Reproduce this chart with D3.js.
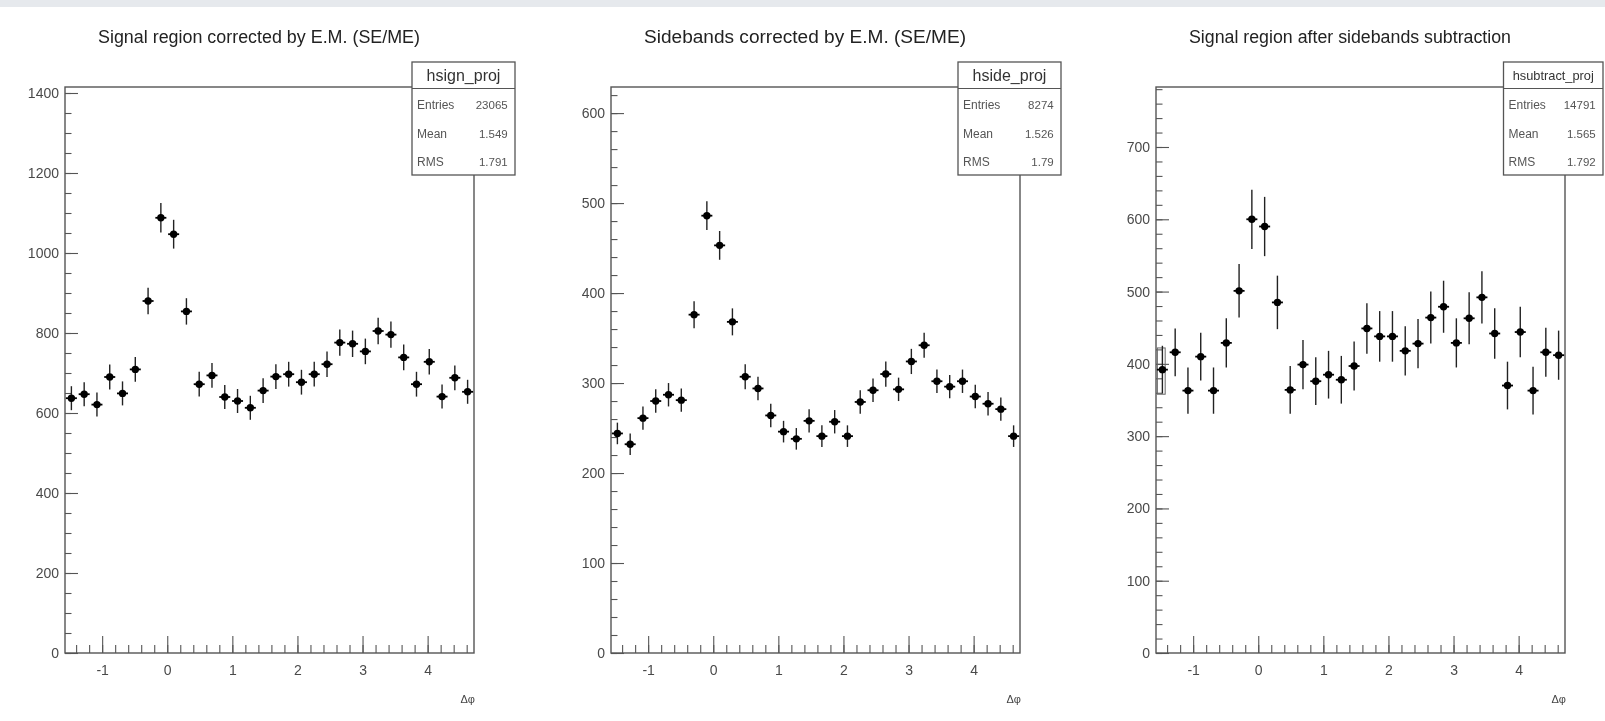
<!DOCTYPE html>
<html>
<head>
<meta charset="utf-8">
<script src="https://cdn.jsdelivr.net/npm/d3@7"></script>
<style>
  html, body { margin: 0; padding: 0; background: #fff; }
  svg { display: block; font-family: "Liberation Sans", Arial, Helvetica, sans-serif; }
</style>
</head>
<body>
<div id="chart"></div>
<script>
// histogram binning in delta phi
const phiMin = -Math.PI / 2
const phiMax = 3 * Math.PI / 2
const nBins = 32

// signal region corrected by E.M.
const signalCounts = [637, 647, 621, 690, 649, 709, 880, 1088, 1047, 854, 672, 694, 640, 630, 613, 656,
                      691, 697, 677, 697, 722, 776, 773, 754, 805, 796, 739, 672, 728, 641, 688, 653]
const signalErrors = [30, 30, 30, 31, 30, 31, 33, 37, 36, 33, 31, 31, 30, 30, 30, 31,
                      31, 31, 31, 31, 32, 33, 33, 32, 33, 33, 32, 31, 32, 30, 31, 30]

// sidebands corrected by E.M.
const sideCounts = [244, 232, 261, 280, 287, 281, 376, 486, 453, 368, 307, 294, 264, 246, 238, 258,
                    241, 257, 241, 279, 292, 310, 293, 324, 342, 302, 296, 302, 285, 277, 271, 241]
const sideErrors = [12, 12, 13, 13, 13, 13, 15, 16, 16, 15, 14, 13, 13, 12, 12, 13,
                    12, 13, 12, 13, 13, 14, 13, 14, 14, 13, 13, 13, 13, 13, 13, 12]

// signal after sideband subtraction
const subCounts = [392, 416, 363, 410, 363, 429, 501, 600, 590, 485, 364, 399, 376, 385, 378, 397,
                   449, 438, 438, 418, 428, 464, 479, 429, 463, 492, 442, 370, 444, 363, 416, 412]
const subErrors = [33, 33, 32, 33, 32, 34, 37, 41, 41, 37, 33, 34, 33, 33, 33, 34,
                   35, 35, 35, 34, 34, 36, 36, 34, 36, 36, 35, 33, 35, 33, 34, 34]

const titles = ["Signal region corrected by E.M. (SE/ME)", "Sidebands corrected by E.M. (SE/ME)",
                "Signal region after sidebands subtraction"]
const histNames = ["hsign_proj", "hside_proj", "hsubtract_proj"]
const statEntries = ["23065", "8274", "14791"]
const statMeans = ["1.549", "1.526", "1.565"]
const statRms = ["1.791", "1.79", "1.792"]

const yMax = [1415, 629, 783]
const yMajor = [[0, 200, 400, 600, 800, 1000, 1200, 1400], [0, 100, 200, 300, 400, 500, 600],
                [0, 100, 200, 300, 400, 500, 600, 700]]
const yMinorStep = [50, 20, 20]
const xMajor = [-1, 0, 1, 2, 3, 4]

const W = 1605, H = 721
const svg = d3.select("#chart").append("svg").attr("width", W).attr("height", H)

svg.append("defs").append("filter").attr("id", "soft")
    .append("feGaussianBlur").attr("stdDeviation", 0.5)

const root = svg.append("g").attr("filter", "url(#soft)")
root.append("rect").attr("width", W).attr("height", H).attr("fill", "#fff")
root.append("rect").attr("width", W).attr("height", 7).attr("fill", "#e6e9ed")

const frameTop = 87, frameBottom = 653
const frames = [
    { left: 65, right: 474, boxL: 62, boxR: 41 },
    { left: 611, right: 1020, boxL: 62, boxR: 41 },
    { left: 1156, right: 1565, boxL: 61.5, boxR: 38 }
]
const headerSize = [16, 16, 12.8]

const binW = (phiMax - phiMin) / nBins
const centers = d3.range(nBins).map(i => phiMin + (i + 0.5) * binW)

const series = [
    { counts: signalCounts, errors: signalErrors },
    { counts: sideCounts, errors: sideErrors },
    { counts: subCounts, errors: subErrors }
]

series.forEach((s, p) => {
    const f = frames[p]
    const x = d3.scaleLinear().domain([phiMin, phiMax]).range([f.left, f.right])
    const y = d3.scaleLinear().domain([0, yMax[p]]).range([frameBottom, frameTop])
    const g = root.append("g")

    // title
    g.append("text")
        .attr("x", (f.left + f.right) / 2 - 10.5).attr("y", 43)
        .attr("text-anchor", "middle")
        .attr("font-size", 17.5).attr("fill", "#222")
        .attr("textLength", 322).attr("lengthAdjust", "spacingAndGlyphs")
        .text(titles[p])

    // y axis, ticks inside the frame
    const yMinor = d3.range(0, yMax[p], yMinorStep[p])
    g.append("g").attr("transform", `translate(${f.left},0)`)
        .call(d3.axisLeft(y).tickValues(yMinor).tickSize(-6.5).tickFormat(""))
        .call(a => a.select(".domain").remove())
    g.append("g").attr("transform", `translate(${f.left},0)`)
        .call(d3.axisLeft(y).tickValues(yMajor[p]).tickSize(-13).tickPadding(6).tickFormat(d => String(d)))
        .call(a => a.select(".domain").remove())

    // x axis
    const xMinor = d3.range(-1.4, 4.7, 0.2)
    g.append("g").attr("transform", `translate(0,${frameBottom})`)
        .call(d3.axisBottom(x).tickValues(xMinor).tickSize(-8).tickFormat(""))
        .call(a => a.select(".domain").remove())
    g.append("g").attr("transform", `translate(0,${frameBottom})`)
        .call(d3.axisBottom(x).tickValues(xMajor).tickSize(-17).tickPadding(12).tickFormat(d => String(d)))
        .call(a => a.select(".domain").remove())

    g.selectAll(".tick line").attr("stroke", "#555").attr("stroke-width", 1.1)
    g.selectAll(".tick text").attr("font-size", 14).attr("fill", "#4a4a4a")
        .attr("font-family", "'Liberation Sans', Arial, sans-serif")

    // frame
    g.append("rect")
        .attr("x", f.left).attr("y", frameTop)
        .attr("width", f.right - f.left).attr("height", frameBottom - frameTop)
        .attr("fill", "none").attr("stroke", "#555").attr("stroke-width", 1.4)

    // axis title
    g.append("text")
        .attr("x", f.right + 1).attr("y", 703)
        .attr("text-anchor", "end").attr("font-size", 11).attr("fill", "#444")
        .text("Δφ")

    // leftover open box seen in the subtracted pad
    if (p === 2) {
        g.append("rect")
            .attr("x", x(-1.55)).attr("y", y(422))
            .attr("width", x(-1.43) - x(-1.55)).attr("height", y(358) - y(422))
            .attr("fill", "none").attr("stroke", "#666").attr("stroke-width", 1)
    }

    // error bars and markers
    const pts = g.selectAll(".pt").data(d3.zip(centers, s.counts, s.errors)).enter()
        .append("g").attr("class", "pt")
    pts.append("line")
        .attr("x1", d => x(d[0])).attr("x2", d => x(d[0]))
        .attr("y1", d => y(d[1] - d[2])).attr("y2", d => y(d[1] + d[2]))
        .attr("stroke", "#222").attr("stroke-width", 1.4)
    pts.append("line")
        .attr("x1", d => x(d[0]) - 5.5).attr("x2", d => x(d[0]) + 5.5)
        .attr("y1", d => y(d[1])).attr("y2", d => y(d[1]))
        .attr("stroke", "#000").attr("stroke-width", 1.8)
    pts.append("circle")
        .attr("cx", d => x(d[0])).attr("cy", d => y(d[1]))
        .attr("r", 3.7).attr("fill", "#000")

    // stats box
    const bx0 = f.right - f.boxL, bx1 = f.right + f.boxR
    const box = g.append("g")
    box.append("rect")
        .attr("x", bx0).attr("y", 62).attr("width", bx1 - bx0).attr("height", 113)
        .attr("fill", "#fff").attr("stroke", "#555").attr("stroke-width", 1.3)
    box.append("line")
        .attr("x1", bx0).attr("x2", bx1).attr("y1", 88.5).attr("y2", 88.5)
        .attr("stroke", "#555").attr("stroke-width", 1.1)
    box.append("text")
        .attr("x", (bx0 + bx1) / 2).attr("y", 75.5).attr("dy", "0.35em")
        .attr("text-anchor", "middle").attr("font-size", headerSize[p]).attr("fill", "#333")
        .text(histNames[p])
    const rows = [["Entries", statEntries[p]], ["Mean", statMeans[p]], ["RMS", statRms[p]]]
    const rowY = [104.5, 133.5, 161.5]
    rows.forEach((r, i) => {
        box.append("text").attr("x", bx0 + 5).attr("y", rowY[i]).attr("dy", "0.35em")
            .attr("font-size", 12).attr("fill", "#555").text(r[0])
        box.append("text").attr("x", bx1 - 7.3).attr("y", rowY[i]).attr("dy", "0.35em")
            .attr("text-anchor", "end").attr("font-size", 11.5).attr("fill", "#555").text(r[1])
    })
})
</script>
</body>
</html>
